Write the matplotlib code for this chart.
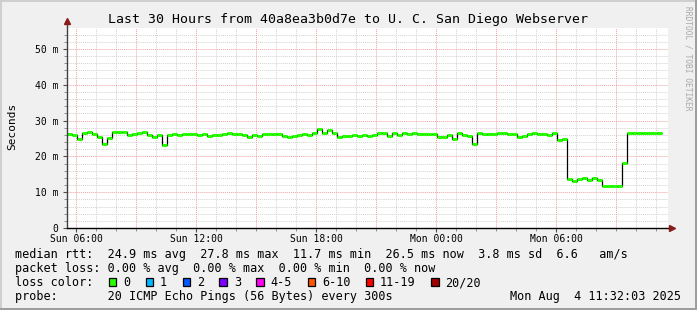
# SmokePing style latency graph, last 30 hours
import numpy as np
import matplotlib
matplotlib.use("Agg")
import matplotlib.pyplot as plt
from matplotlib.patches import Rectangle


# median rtt (ms), one value per 15 minutes, starting Sun 05:32
rtt_ms = [
    26.2, 26.1, 25.0, 26.5, 26.7, 26.3, 25.4, 23.4, 25.1, 26.9,
    26.9, 26.7, 25.9, 26.2, 26.4, 26.7, 26.0, 25.5, 26.1, 23.2,
    26.1, 26.3, 25.9, 26.2, 26.2, 26.2, 26.0, 26.2, 25.8, 26.1,
    25.9, 26.2, 26.6, 26.3, 26.3, 26.0, 25.5, 26.0, 25.7, 26.2,
    26.3, 26.3, 26.3, 25.7, 25.5, 25.8, 26.0, 26.2, 25.9, 26.5,
    27.6, 26.4, 27.5, 26.5, 25.5, 25.8, 25.7, 26.0, 25.6, 25.9,
    25.6,
    25.9, 26.4, 26.6, 25.8, 26.4, 26.1, 26.6, 26.2, 26.5, 26.2,
    26.2, 26.2, 26.2, 25.5, 25.5, 26.0, 24.8, 26.4, 26.0, 25.6,
    23.6, 26.5, 26.3, 26.2, 26.3, 26.6, 26.5, 26.2, 26.2, 25.5,
    25.6,
    26.2, 26.5, 26.2, 26.2, 26.1, 26.4, 24.5, 25.0, 13.6, 13.1,
    13.6, 14.0, 13.5, 14.0, 13.4, 11.7, 11.8, 11.8, 11.7, 18.1,
    26.4, 26.5, 26.4, 26.5, 26.4, 26.5, 26.4,
]
step_h = 0.25
start_clock = 5 + 32 / 60.0          # Sun 05:32

time_labels = ["Sun 06:00", "Sun 12:00", "Sun 18:00", "Mon 00:00", "Mon 06:00"]
ytick_vals = [0, 10, 20, 30, 40, 50]
ytick_labels = ["0", "10 m", "20 m", "30 m", "40 m", "50 m"]

loss_labels = ["0", "1", "2", "3", "4-5", "6-10", "11-19", "20/20"]
loss_colors = ["#26ff00", "#00b8ff", "#0059ff", "#7e00ff",
               "#ff00ee", "#ff5500", "#ff0000", "#a10000"]

title = "Last 30 Hours from 40a8ea3b0d7e to U. C. San Diego Webserver"
line_rtt = ("median rtt:  24.9 ms avg  27.8 ms max  11.7 ms min  "
            "26.5 ms now  3.8 ms sd  6.6   am/s")
line_loss = "packet loss: 0.00 % avg  0.00 % max  0.00 % min  0.00 % now"
line_probe = "probe:       20 ICMP Echo Pings (56 Bytes) every 300s"
stamp = "Mon Aug  4 11:32:03 2025"

W, H = 697, 310
MONO = "DejaVu Sans Mono"
plt.rcParams["font.family"] = MONO


def fx(px):
    return px / W


def fy(py):
    return 1 - py / H


fig = plt.figure(figsize=(W / 100, H / 100), dpi=100, facecolor="#f0f0f0")

# frame shading like rrdtool
for (x, y, w, h, c) in [(0, 0, 2, H, "#cfcfcf"), (0, 0, W, 2, "#cfcfcf"),
                        (0, H - 2, W, 2, "#9e9e9e"), (W - 2, 0, 2, H, "#9e9e9e")]:
    fig.add_artist(Rectangle((x / W, 1 - (y + h) / H), w / W, h / H,
                             transform=fig.transFigure, color=c, lw=0))

left, right, top, bottom = 67, 668, 28, 228
ax = fig.add_axes([fx(left), fy(bottom), (right - left) / W, (bottom - top) / H])
ax.set_facecolor("white")
for s in ax.spines.values():
    s.set_visible(False)

xmax = (right - left) / 20.0
ymax = (bottom - top) / 3.58
ax.set_xlim(0, xmax)
ax.set_ylim(0, ymax)

# grid
dot = (0, (1, 1))
for v in np.arange(2, ymax, 2):
    if int(round(v)) % 10 == 0:
        ax.axhline(v, color="#f2a0a0", lw=0.7, ls=dot, zorder=1)
    else:
        ax.axhline(v, color="#d2d2d2", lw=0.7, ls=dot, zorder=0.9)
first_hour = 6 - start_clock
hours = np.arange(first_hour, xmax, 1.0)
for i, h in enumerate(hours):
    clock = int(round(start_clock + h)) % 24
    if clock % 3 == 0:
        ax.axvline(h, color="#f2a0a0", lw=0.7, ls=dot, zorder=1)
    else:
        ax.axvline(h, color="#d2d2d2", lw=0.7, ls=dot, zorder=0.9)

# data: black step line with green median marks
rtt = np.array(rtt_ms)
edges = np.arange(len(rtt) + 1) * step_h
ax.stairs(rtt, edges, color="black", lw=0.9, zorder=3, baseline=None)
ax.hlines(rtt, edges[:-1], edges[1:], color=loss_colors[0], lw=2.2, zorder=4)

# axes lines with arrows
ax.plot([0, 0], [0, ymax + 1.6], color="#404040", lw=1, clip_on=False, zorder=5)
ax.plot([0], [ymax + 1.9], marker="^", ms=5, color="#8b1a1a", clip_on=False, zorder=6)
ax.plot([0, xmax + 0.15], [0, 0], color="black", lw=1, clip_on=False, zorder=5)
ax.plot([xmax + 0.2], [0], marker=">", ms=5, color="#8b1a1a", clip_on=False, zorder=6)

# ticks
ax.set_yticks(ytick_vals)
ax.set_yticklabels(ytick_labels)
ax.set_yticks(np.arange(2, ymax, 2), minor=True)
xt = [first_hour + 6 * i for i in range(len(time_labels))]
ax.set_xticks(xt)
ax.set_xticklabels(time_labels)
ax.set_xticks(hours, minor=True)
ax.tick_params(axis="both", which="major", direction="out", length=3, width=0.8,
               color="#505050", labelsize=7, labelcolor="black")
ax.tick_params(axis="both", which="minor", direction="out", length=2, width=0.6,
               color="#808080")
ax.tick_params(axis="y", pad=3)
ax.tick_params(axis="x", pad=1.5)

# texts
fig.text(fx(348), fy(19), title, ha="center", va="center", fontsize=9.5)
fig.text(fx(12), fy(126), "Seconds", rotation=90, ha="center", va="center", fontsize=8)
fig.text(fx(688), fy(58), "RRDTOOL / TOBI OETIKER", rotation=270,
         ha="center", va="center", fontsize=5.7, color="#a8a8a8")

lx = 15
fig.text(fx(lx), fy(258), line_rtt, ha="left", va="baseline", fontsize=8.5)
fig.text(fx(lx), fy(272), line_loss, ha="left", va="baseline", fontsize=8.5)
fig.text(fx(lx), fy(286), "loss color:", ha="left", va="baseline", fontsize=8.5)
fig.text(fx(lx), fy(300), line_probe, ha="left", va="baseline", fontsize=8.5)
fig.text(fx(681), fy(300), stamp, ha="right", va="baseline", fontsize=8.5)

cw = 7.1
bx = 108.7
for lab, col in zip(loss_labels, loss_colors):
    fig.add_artist(Rectangle((fx(bx), fy(286)), 7.5 / W, 8 / H, transform=fig.transFigure,
                             facecolor=col, edgecolor="black", lw=0.9))
    fig.text(fx(bx + 14.3), fy(286), lab, ha="left", va="baseline", fontsize=8.5)
    bx += (len(lab) + 4.2) * cw

fig.savefig("out.png", dpi=100, facecolor=fig.get_facecolor())
